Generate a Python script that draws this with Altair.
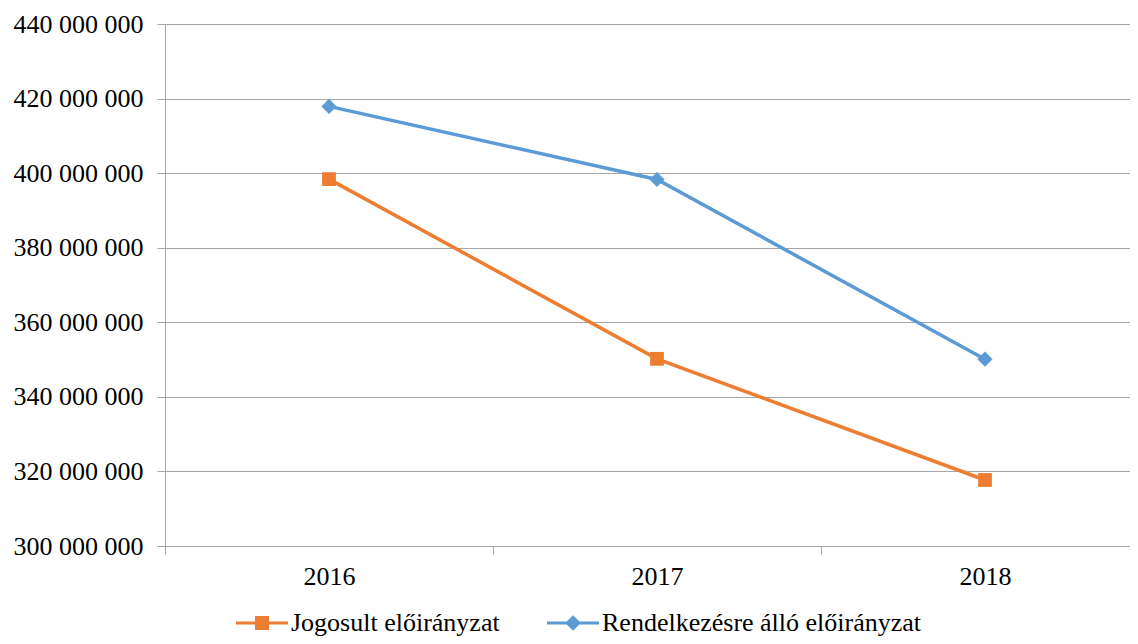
import altair as alt
import pandas as pd

years = ["2016", "2017", "2018"]
series_names = ["Jogosult előirányzat", "Rendelkezésre álló előirányzat"]
jogosult = [398400000, 350200000, 317700000]
rendelkezesre = [417900000, 398300000, 350100000]
y_ticks = [300000000, 320000000, 340000000, 360000000, 380000000, 400000000, 420000000, 440000000]

colors = ["#ED7D31", "#5B9BD5"]
marker_shapes = ["square", "diamond"]
legend_shapes = [
    "M-1,-0.06H1V0.06H-1ZM-0.27,-0.27H0.27V0.27H-0.27Z",
    "M-1,-0.06H1V0.06H-1ZM0,-0.3L0.3,0L0,0.3L-0.3,0Z",
]

rows = []
for name, vals in zip(series_names, [jogosult, rendelkezesre]):
    for yr, v in zip(years, vals):
        rows.append({"year": yr, "value": v, "series": name})
df = pd.DataFrame(rows)

FONT = "Liberation Serif, 'Times New Roman', Times, serif"

x_enc = alt.X(
    "year:N",
    sort=years,
    scale=alt.Scale(paddingInner=0, paddingOuter=0, range=[0, 984]),
    axis=alt.Axis(
        title=None, labelAngle=0, tickBand="extent", grid=False,
        labelFont=FONT, labelFontSize=26, labelColor="#000000",
        domainColor="#A6A6A6", tickColor="#A6A6A6", tickSize=8, labelPadding=9,
    ),
)
y_enc = alt.Y(
    "value:Q",
    scale=alt.Scale(domain=[y_ticks[0], y_ticks[-1]], nice=False, zero=False),
    axis=alt.Axis(
        title=None, values=y_ticks,
        labelExpr="replace(replace(format(datum.value, ','), ',', ' '), ',', ' ')",
        labelFont=FONT, labelFontSize=26, labelColor="#000000",
        domainColor="#A6A6A6", tickColor="#A6A6A6", tickSize=8, labelPadding=14,
        gridColor="#A6A6A6", gridWidth=1.2,
    ),
)
color_scale = alt.Scale(domain=series_names, range=colors)

legend_layer = alt.Chart(df).mark_point(filled=True, size=0, opacity=1, fillOpacity=1).encode(
    x=x_enc, y=y_enc,
    color=alt.Color("series:N", scale=color_scale, legend=alt.Legend(
        title=None, orient="none", direction="horizontal",
        legendX=71, legendY=573,
        symbolSize=2704, symbolStrokeWidth=0,
        labelFont=FONT, labelFontSize=26, labelColor="#000000",
        labelOffset=3, columnPadding=47, labelLimit=600,
    )),
    shape=alt.Shape("series:N", scale=alt.Scale(domain=series_names, range=legend_shapes)),
)

lines = alt.Chart(df).mark_line(strokeWidth=3.5).encode(
    x=x_enc, y=y_enc,
    color=alt.Color("series:N", scale=color_scale, legend=None),
)

pts = []
for name, shp, col in zip(series_names, marker_shapes, colors):
    pts.append(
        alt.Chart(df).transform_filter(alt.datum.series == name)
        .mark_point(shape=shp, filled=True, opacity=1, size=190 if shp == "square" else 230, color=col)
        .encode(x=x_enc, y=y_enc)
    )

chart = alt.layer(legend_layer, lines, *pts).properties(
    width=965, height=522,
    autosize=alt.AutoSizeParams(type="none"),
    padding={"left": 157, "top": 16, "right": 0, "bottom": 94},
).configure_view(stroke=None)

chart.save("out.html", embed_options={"renderer": "svg", "actions": False})
